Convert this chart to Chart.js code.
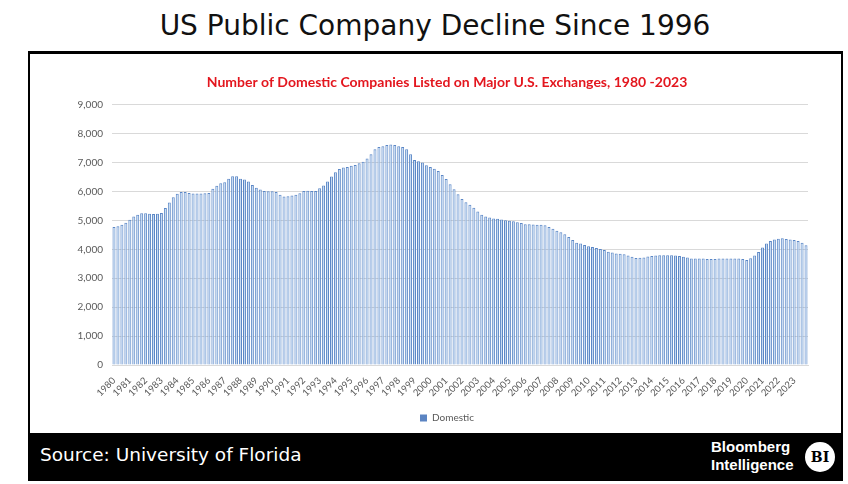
<!DOCTYPE html>
<html>
<head>
<meta charset="utf-8">
<script src="https://cdn.jsdelivr.net/npm/chart.js@4.4.0/dist/chart.umd.min.js"></script>
<style>
  body { margin: 0; background: #fff; width: 848px; height: 484px; position: relative; overflow: hidden; font-family: 'DejaVu Sans', sans-serif; }
  #title { position: absolute; left: 0; top: 9px; width: 870px; text-align: center; font-size: 28px; color: #111; }
  #box { position: absolute; left: 28px; top: 51px; width: 811px; height: 425px; border: 2px solid #000; border-top-width: 3px; background: #fff; }
  #wrap { position: absolute; left: 60px; top: 55px; width: 774px; height: 378px; }
  #footer { position: absolute; left: 28px; top: 433px; width: 815px; height: 47px; background: #000; color: #fff; }
  #source { position: absolute; left: 12px; top: 11px; font-size: 18.5px; }
  #bbg { position: absolute; left: 683px; top: 5px; font-family: 'Liberation Sans', Arial, sans-serif; font-weight: bold; font-size: 15px; line-height: 18px; }
  #bi { position: absolute; left: 777px; top: 9px; width: 30px; height: 30px; border-radius: 50%; background: #fff; color: #000; text-align: center; line-height: 30px; font-family: 'DejaVu Serif', serif; font-weight: bold; font-size: 14px; }
</style>
</head>
<body>
<div id="title">US Public Company Decline Since 1996</div>
<div id="box"></div>
<div id="wrap"><canvas id="domesticChart" width="774" height="378"></canvas></div>
<div id="footer">
  <div id="source">Source: University of Florida</div>
  <div id="bbg">Bloomberg<br>Intelligence</div>
  <div id="bi">BI</div>
</div>
<script>
// Year tick labels, one per four quarterly bars
const years = [];
for (let y = 1980; y <= 2023; y++) years.push(String(y));
const quarters = ['Q1', 'Q2', 'Q3', 'Q4'];

// Number of domestic listed companies, quarterly
const domestic = [
  4770, 4800, 4850, 4920, 5020, 5140, 5200, 5250, 5250, 5230,
  5220, 5230, 5260, 5430, 5620, 5800, 5920, 5980, 5980, 5950,
  5930, 5930, 5930, 5940, 5950, 6100, 6200, 6290, 6320, 6440,
  6530, 6530, 6440, 6420, 6350, 6230, 6130, 6070, 6020, 6010,
  6010, 5980, 5890, 5830, 5840, 5860, 5890, 5940, 6020, 6030,
  6020, 6020, 6110, 6210, 6350, 6520, 6670, 6780,
  6830, 6850, 6890, 6920, 6980, 7030, 7140, 7290, 7460, 7540,
  7570, 7610, 7630, 7610, 7570, 7540, 7460, 7290, 7090, 7050,
  7000, 6910, 6850, 6790, 6710, 6570, 6430, 6250, 6080, 5910,
  5740, 5630, 5540, 5440, 5310, 5200, 5140, 5100, 5070, 5060,
  5030, 5010, 4990, 4970, 4940, 4910, 4870, 4870, 4860, 4850,
  4850, 4830, 4770, 4710, 4640,
  4590, 4520, 4430, 4320, 4230, 4200, 4150, 4110, 4080, 4050,
  4010, 3980, 3920, 3890, 3860, 3850, 3830, 3790, 3740, 3700,
  3710, 3720, 3750, 3770, 3790, 3800, 3800, 3800, 3800, 3790,
  3770, 3740, 3720,
  3680, 3680, 3680, 3680, 3670, 3670, 3670, 3680, 3680, 3680,
  3680, 3680, 3680, 3670, 3630, 3690, 3790, 3910, 4060, 4200,
  4290, 4340, 4370, 4380, 4360, 4340, 4320, 4290, 4230, 4140
];

const yTicks = [0, 1000, 2000, 3000, 4000, 5000, 6000, 7000, 8000, 9000];

document.addEventListener('DOMContentLoaded', function () {
  const labels = years.flatMap(y => quarters.map(q => y + ' ' + q));
  const canvas = document.getElementById('domesticChart');

  new Chart(canvas, {
    type: 'bar',
    data: {
      labels: labels,
      datasets: [{
        label: 'Domestic',
        data: domestic,
        backgroundColor: '#c4d9f2',
        borderColor: '#5b87c6',
        borderWidth: { left: 1, right: 1, top: 1, bottom: 0 },
        barPercentage: 0.75,
        categoryPercentage: 1.0
      }]
    },
    options: {
      responsive: false,
      animation: false,
      devicePixelRatio: 1,
      layout: { padding: 0 },
      plugins: {
        title: {
          display: true,
          text: 'Number of Domestic Companies Listed on Major U.S. Exchanges, 1980 -2023',
          color: '#e3161e',
          font: { family: 'Lato', size: 14, weight: 'bold' },
          padding: { top: 19, bottom: 14 }
        },
        legend: {
          position: 'bottom',
          labels: {
            boxWidth: 7,
            boxHeight: 7,
            padding: 8,
            color: '#595959',
            font: { family: 'Lato', size: 10 },
            generateLabels: function (chart) {
              const items = Chart.defaults.plugins.legend.labels.generateLabels(chart);
              items.forEach(function (it) {
                it.fillStyle = '#5b84c2';
                it.strokeStyle = '#5b84c2';
                it.lineWidth = 0;
              });
              return items;
            }
          }
        },
        tooltip: { enabled: false }
      },
      scales: {
        x: {
          grid: { display: false },
          border: { color: '#d9d9d9' },
          ticks: {
            autoSkip: false,
            maxRotation: 45,
            minRotation: 45,
            padding: 2,
            color: '#595959',
            font: { family: 'Lato', size: 9.5 },
            callback: function (value, index) {
              return index % 4 === 0 ? years[index / 4] : '';
            }
          },
          afterFit: function (axis) { axis.height = 40; }
        },
        y: {
          min: 0,
          max: 9000,
          grid: { color: '#d9d9d9', lineWidth: 1, drawTicks: false },
          border: { display: false },
          afterBuildTicks: function (axis) {
            axis.ticks = yTicks.map(v => ({ value: v }));
          },
          ticks: {
            padding: 9,
            color: '#595959',
            font: { family: 'Lato', size: 10 },
            callback: function (value) { return value.toLocaleString('en-US'); }
          },
          afterFit: function (axis) { axis.width = 52; }
        },
        // empty right-hand spacer so the centred title and legend sit where the reference has them
        spacer: {
          position: 'right',
          min: 0,
          max: 9000,
          grid: { display: false },
          border: { display: false },
          ticks: { display: false },
          afterFit: function (axis) { axis.width = 26; }
        }
      }
    }
  });
});
</script>
</body>
</html>
